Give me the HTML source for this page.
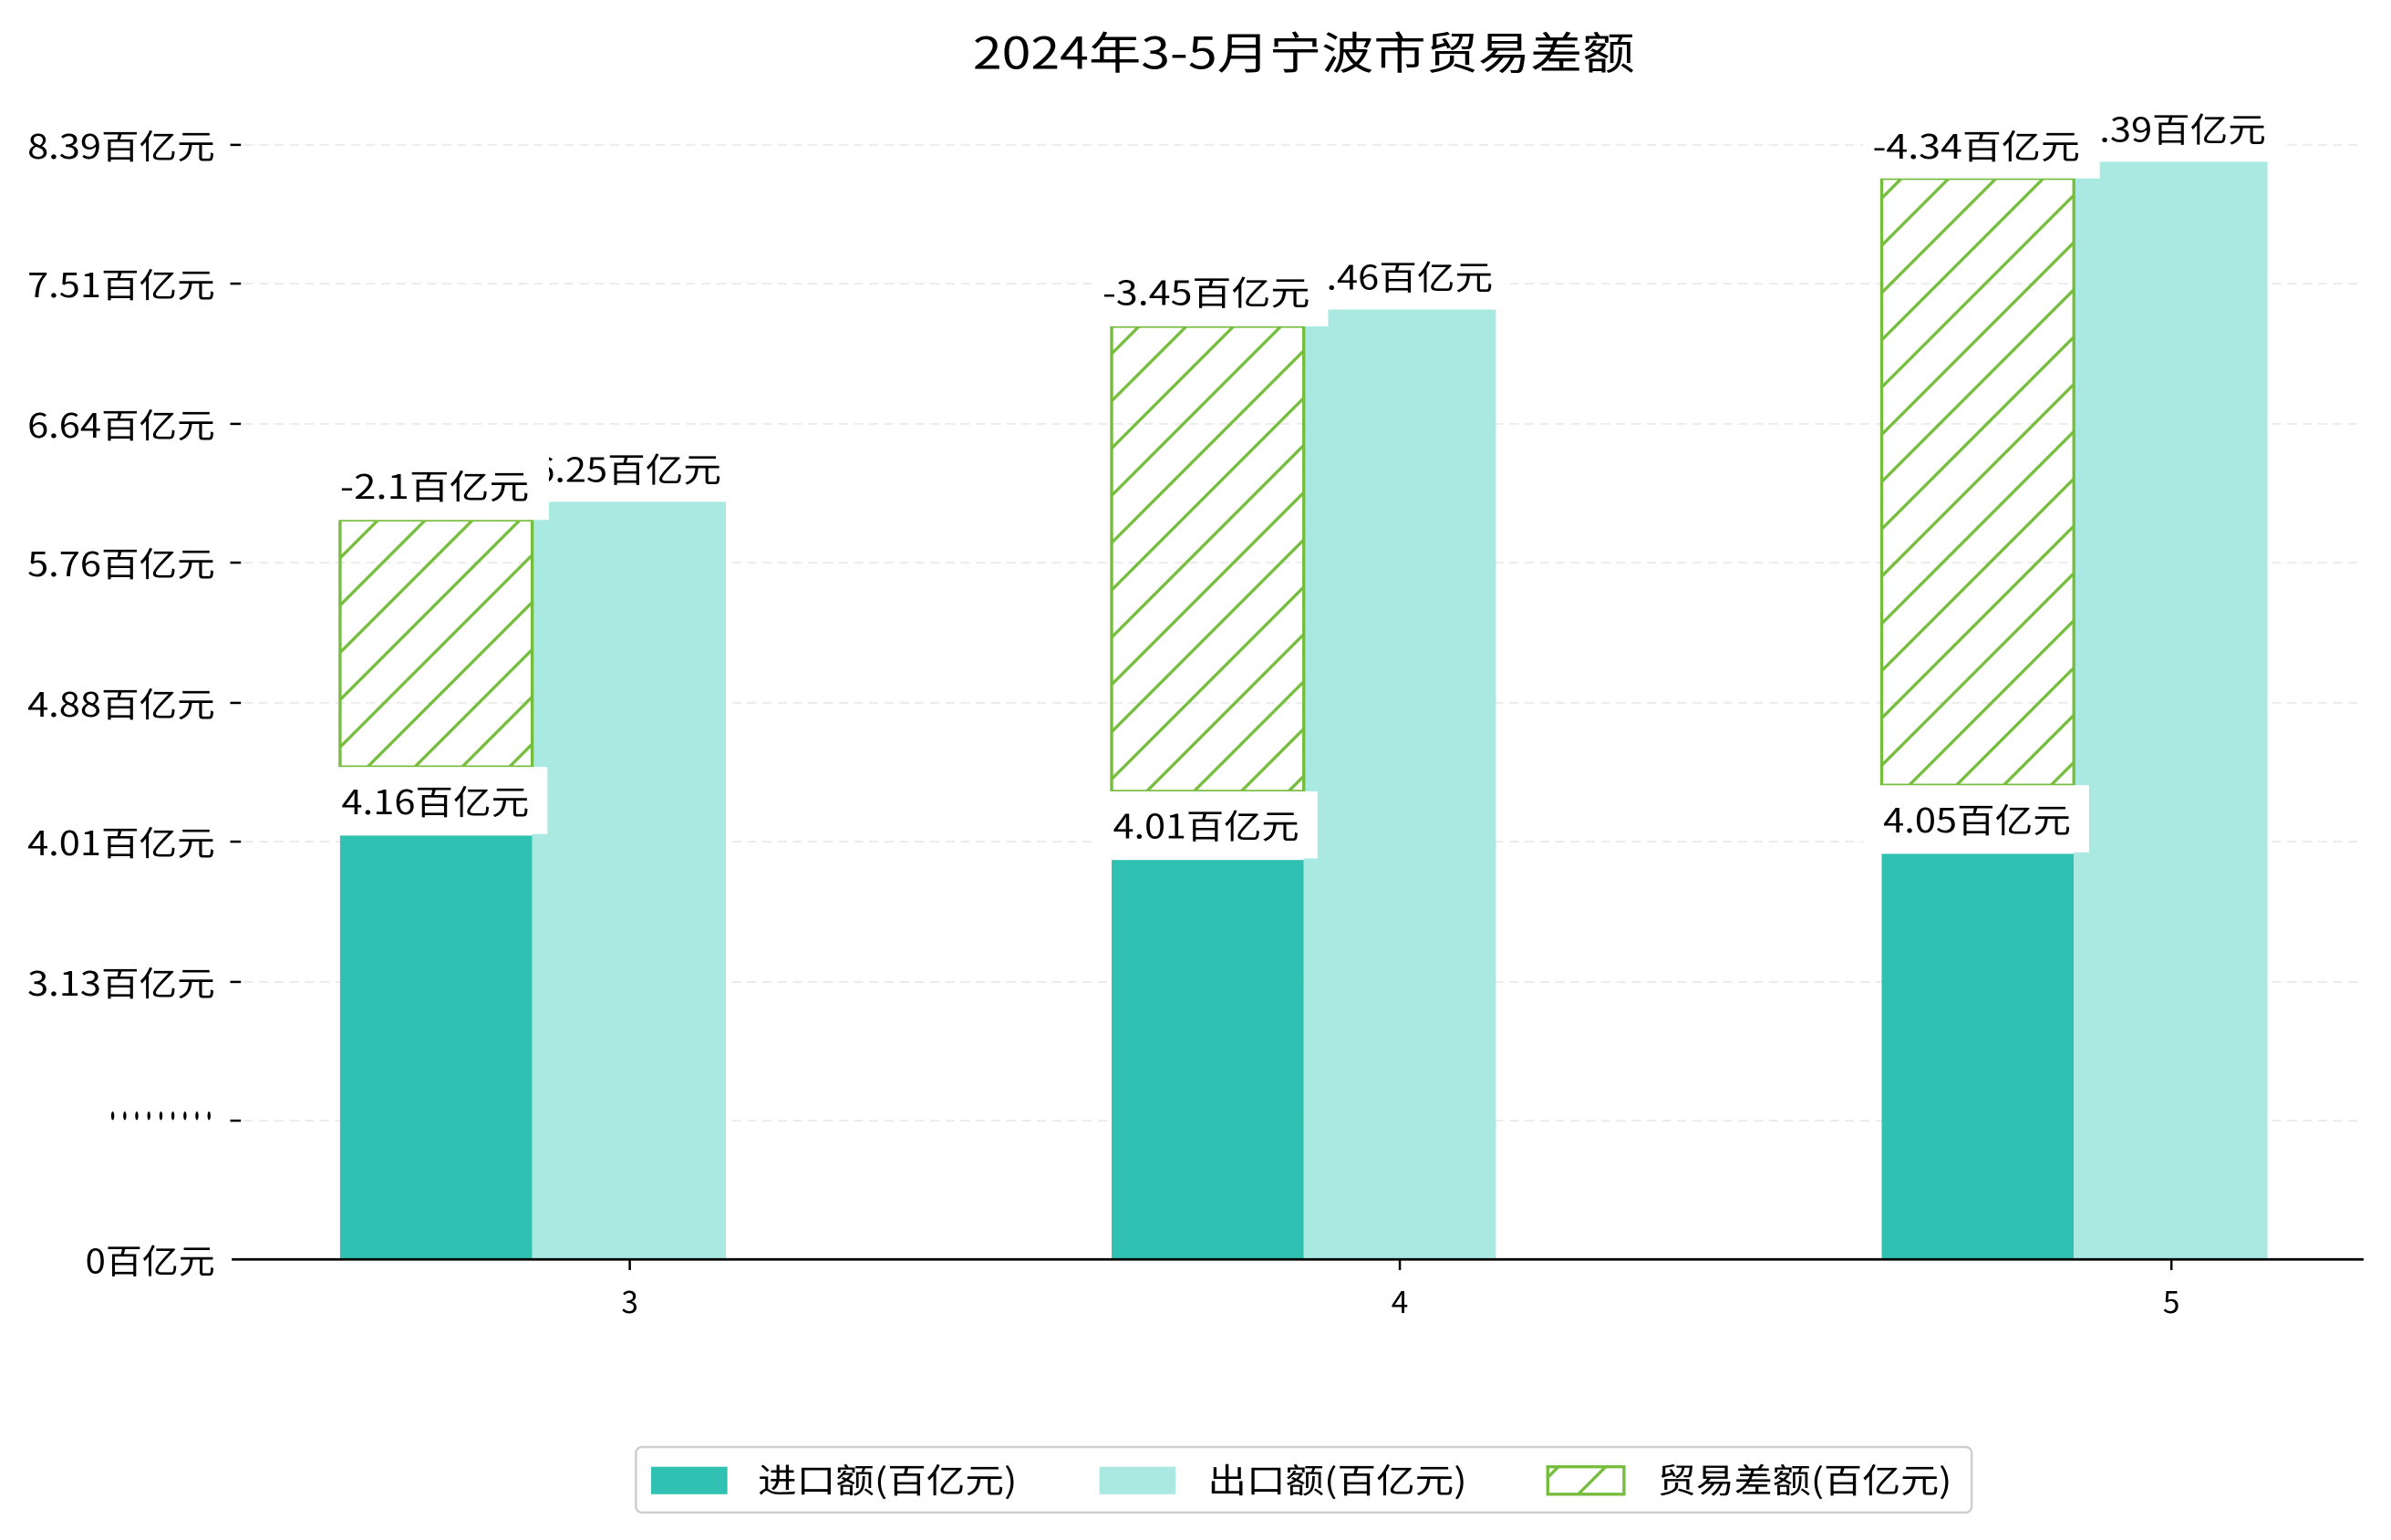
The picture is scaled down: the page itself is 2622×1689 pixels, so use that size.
<!DOCTYPE html>
<html><head><meta charset="utf-8"><style>
html,body{margin:0;padding:0;background:#fff;}
svg{display:block;}
text{font-family:"WenQuanYi Zen Hei","Noto Sans CJK SC",sans-serif;fill:#000;}
</style></head><body>
<svg width="2622" height="1689" viewBox="0 0 1568 1010" xmlns="http://www.w3.org/2000/svg">
<defs>
<pattern id="h" patternUnits="userSpaceOnUse" width="31" height="31">
<path d="M-8,8 L8,-8 M0,31 L31,0 M23,39 L39,23" stroke="#76bd3e" stroke-width="2"/>
</pattern>
</defs>
<rect width="1568" height="1010" fill="#fff"/>
<text x="638" y="45" font-size="29" textLength="434" lengthAdjust="spacingAndGlyphs">2024年3-5月宁波市贸易差额</text>
<g stroke="#ececec" stroke-width="1.2" stroke-dasharray="6,4">
<line x1="160" x2="1550" y1="95" y2="95"/><line x1="160" x2="1550" y1="186" y2="186"/>
<line x1="160" x2="1550" y1="278" y2="278"/><line x1="160" x2="1550" y1="369" y2="369"/>
<line x1="160" x2="1550" y1="461" y2="461"/><line x1="160" x2="1550" y1="552" y2="552"/>
<line x1="160" x2="1550" y1="644" y2="644"/><line x1="160" x2="1550" y1="735" y2="735"/>
</g>
<g stroke="#000" stroke-width="1.5">
<line x1="151" x2="158" y1="95" y2="95"/><line x1="151" x2="158" y1="186" y2="186"/>
<line x1="151" x2="158" y1="278" y2="278"/><line x1="151" x2="158" y1="369" y2="369"/>
<line x1="151" x2="158" y1="461" y2="461"/><line x1="151" x2="158" y1="552" y2="552"/>
<line x1="151" x2="158" y1="644" y2="644"/><line x1="151" x2="158" y1="735" y2="735"/>
<line x1="413" x2="413" y1="826" y2="833"/><line x1="918" x2="918" y1="826" y2="833"/><line x1="1424" x2="1424" y1="826" y2="833"/>
</g>
<g font-size="22">
<text x="18" y="104" textLength="123" lengthAdjust="spacingAndGlyphs">8.39百亿元</text>
<text x="18" y="195" textLength="123" lengthAdjust="spacingAndGlyphs">7.51百亿元</text>
<text x="18" y="287" textLength="123" lengthAdjust="spacingAndGlyphs">6.64百亿元</text>
<text x="18" y="378" textLength="123" lengthAdjust="spacingAndGlyphs">5.76百亿元</text>
<text x="18" y="470" textLength="123" lengthAdjust="spacingAndGlyphs">4.88百亿元</text>
<text x="18" y="561" textLength="123" lengthAdjust="spacingAndGlyphs">4.01百亿元</text>
<text x="18" y="653" textLength="123" lengthAdjust="spacingAndGlyphs">3.13百亿元</text>
<text x="70" y="740" font-weight="bold" textLength="71" lengthAdjust="spacingAndGlyphs">·········</text>
<text x="56" y="835" textLength="85" lengthAdjust="spacingAndGlyphs">0百亿元</text>
</g>
<g font-size="20" text-anchor="middle">
<text x="413" y="861">3</text><text x="918" y="861">4</text><text x="1424" y="861">5</text>
</g>
<rect x="223" y="548" width="126" height="278" fill="#31c1b3"/>
<rect x="349" y="329" width="127" height="497" fill="#aae8e2"/>
<rect x="223" y="341" width="126" height="162" fill="url(#h)" stroke="#76bd3e" stroke-width="2"/>
<rect x="729" y="564" width="126" height="262" fill="#31c1b3"/>
<rect x="855" y="203" width="126" height="623" fill="#aae8e2"/>
<rect x="729" y="214" width="126" height="305" fill="url(#h)" stroke="#76bd3e" stroke-width="2"/>
<rect x="1234" y="560" width="126" height="266" fill="#31c1b3"/>
<rect x="1360" y="106" width="127" height="720" fill="#aae8e2"/>
<rect x="1234" y="117" width="126" height="398" fill="url(#h)" stroke="#76bd3e" stroke-width="2"/>
<line x1="152" x2="1550" y1="826" y2="826" stroke="#000" stroke-width="1.6"/>
<g font-size="22">
<rect x="340" y="287" width="144" height="42" fill="#fff"/><text x="350" y="316" textLength="123" lengthAdjust="spacingAndGlyphs">6.25百亿元</text>
<rect x="215" y="298" width="145" height="43" fill="#fff"/><text x="223" y="327" textLength="124" lengthAdjust="spacingAndGlyphs">-2.1百亿元</text>
<rect x="215" y="503" width="144" height="44" fill="#fff"/><text x="224" y="534" textLength="123" lengthAdjust="spacingAndGlyphs">4.16百亿元</text>
<rect x="846" y="161" width="144" height="42" fill="#fff"/><text x="856" y="190" textLength="123" lengthAdjust="spacingAndGlyphs">7.46百亿元</text>
<rect x="717" y="171" width="154" height="43" fill="#fff"/><text x="723" y="200" textLength="136" lengthAdjust="spacingAndGlyphs">-3.45百亿元</text>
<rect x="717" y="519" width="147" height="44" fill="#fff"/><text x="730" y="550" textLength="122" lengthAdjust="spacingAndGlyphs">4.01百亿元</text>
<rect x="1352" y="64" width="144" height="42" fill="#fff"/><text x="1363" y="93" textLength="123" lengthAdjust="spacingAndGlyphs">8.39百亿元</text>
<rect x="1222" y="75" width="155" height="42" fill="#fff"/><text x="1228" y="104" textLength="136" lengthAdjust="spacingAndGlyphs">-4.34百亿元</text>
<rect x="1222" y="515" width="148" height="44" fill="#fff"/><text x="1235" y="546" textLength="123" lengthAdjust="spacingAndGlyphs">4.05百亿元</text>
</g>
<rect x="417" y="949" width="876" height="43" rx="4" fill="#fff" stroke="#cfcfcf" stroke-width="1.5"/>
<rect x="427" y="962" width="50" height="18" fill="#31c1b3"/>
<rect x="721" y="962" width="50" height="18" fill="#aae8e2"/>
<rect x="1015" y="962" width="50" height="18" fill="url(#h)" stroke="#76bd3e" stroke-width="2"/>
<g font-size="22">
<text x="497" y="979" textLength="170" lengthAdjust="spacingAndGlyphs">进口额(百亿元)</text>
<text x="792" y="979" textLength="170" lengthAdjust="spacingAndGlyphs">出口额(百亿元)</text>
<text x="1087" y="979" textLength="193" lengthAdjust="spacingAndGlyphs">贸易差额(百亿元)</text>
</g>
</svg>
</body></html>
